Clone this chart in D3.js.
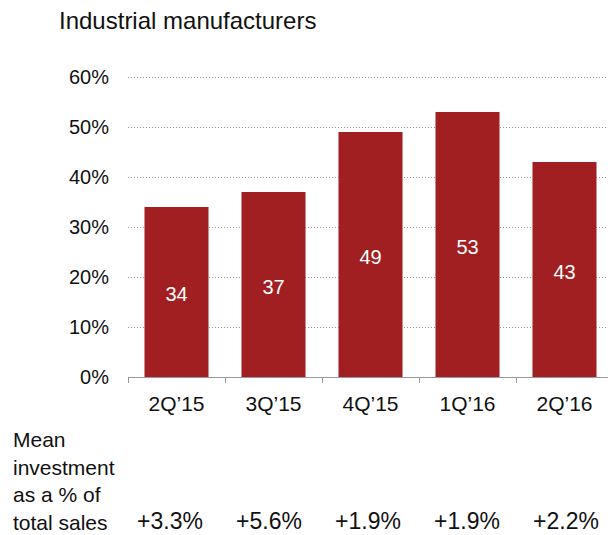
<!DOCTYPE html>
<html>
<head>
<meta charset="utf-8">
<script src="https://cdn.jsdelivr.net/npm/d3@7"></script>
<style>
  body { margin: 0; background: #fff; }
  text { font-family: "Liberation Sans", Arial, sans-serif; fill: #111; }
</style>
</head>
<body>
<div id="vis"></div>
<script>
const FRAME_WIDTH = 608;
const FRAME_HEIGHT = 535;
const MARGINS = {left: 128, right: -5, top: 77, bottom: 158};

const VIS_WIDTH = FRAME_WIDTH - MARGINS.left - MARGINS.right;
const VIS_HEIGHT = FRAME_HEIGHT - MARGINS.top - MARGINS.bottom;

// data
const categories = ["2Q\u201915", "3Q\u201915", "4Q\u201915", "1Q\u201916", "2Q\u201916"];
const shares = [34, 37, 49, 53, 43];
const investment = ["+3.3%", "+5.6%", "+1.9%", "+1.9%", "+2.2%"];
const yTicks = [0, 10, 20, 30, 40, 50, 60];
const footerLines = ["Mean", "investment", "as a % of", "total sales"];

const FRAME = d3.select("#vis")
                .append("svg")
                  .attr("width", FRAME_WIDTH)
                  .attr("height", FRAME_HEIGHT);

const X_SCALE = d3.scaleBand()
                  .domain(categories)
                  .range([0, VIS_WIDTH])
                  .paddingInner(0.34)
                  .paddingOuter(0.17);

const Y_SCALE = d3.scaleLinear()
                  .domain([0, 60])
                  .range([VIS_HEIGHT, 0]);

// title
FRAME.append("text")
     .attr("x", 59)
     .attr("y", 29)
     .attr("font-size", "24px")
     .text("Industrial manufacturers");

const G = FRAME.append("g")
               .attr("transform", "translate(" + MARGINS.left + "," + MARGINS.top + ")");

// dotted gridlines
G.selectAll(".grid")
 .data(yTicks.filter(d => d > 0))
 .enter()
 .append("line")
   .attr("x1", 0)
   .attr("x2", FRAME_WIDTH - MARGINS.left)
   .attr("y1", d => Y_SCALE(d) + 0.5)
   .attr("y2", d => Y_SCALE(d) + 0.5)
   .attr("stroke", "#999")
   .attr("stroke-width", 1)
   .attr("stroke-dasharray", "1,2");

// y labels
G.selectAll(".ylab")
 .data(yTicks)
 .enter()
 .append("text")
   .attr("x", -19)
   .attr("y", d => Y_SCALE(d))
   .attr("dy", "0.35em")
   .attr("text-anchor", "end")
   .attr("font-size", "20px")
   .text(d => d + "%");

// bars
G.selectAll(".bar")
 .data(shares)
 .enter()
 .append("rect")
   .attr("x", (d, i) => X_SCALE(categories[i]))
   .attr("y", d => Y_SCALE(d))
   .attr("width", X_SCALE.bandwidth())
   .attr("height", d => VIS_HEIGHT - Y_SCALE(d))
   .attr("fill", "#A21F21");

// value labels
G.selectAll(".val")
 .data(shares)
 .enter()
 .append("text")
   .attr("x", (d, i) => X_SCALE(categories[i]) + X_SCALE.bandwidth() / 2)
   .attr("y", d => (Y_SCALE(d) + VIS_HEIGHT) / 2 + 2)
   .attr("dy", "0.35em")
   .attr("text-anchor", "middle")
   .attr("font-size", "20px")
   .style("fill", "#fff")
   .text(d => d);

// x axis
const xAxis = G.append("g")
               .attr("transform", "translate(0," + VIS_HEIGHT + ")")
               .call(d3.axisBottom(X_SCALE).tickSize(0).tickPadding(19));
xAxis.select(".domain").attr("stroke", "#999").attr("d", "M0.5,0.5H" + VIS_WIDTH);
xAxis.selectAll("text").attr("font-size", "21px").style("fill", "#111")
     .attr("font-family", "Liberation Sans, Arial, sans-serif");

// tick marks between bands
G.selectAll(".sep")
 .data(categories)
 .enter()
 .append("line")
   .attr("x1", d => Math.round(X_SCALE(d) - X_SCALE.step() * X_SCALE.paddingInner() / 2) + 0.5)
   .attr("x2", d => Math.round(X_SCALE(d) - X_SCALE.step() * X_SCALE.paddingInner() / 2) + 0.5)
   .attr("y1", VIS_HEIGHT)
   .attr("y2", VIS_HEIGHT + 6)
   .attr("stroke", "#999");

// footer
FRAME.selectAll(".foot")
     .data(footerLines)
     .enter()
     .append("text")
       .attr("x", 13)
       .attr("y", (d, i) => 447 + i * 27.5)
       .attr("font-size", "21px")
       .text(d => d);

const FOOT_SCALE = d3.scalePoint()
                     .domain(categories)
                     .range([170, 566]);

FRAME.selectAll(".inv")
     .data(investment)
     .enter()
     .append("text")
       .attr("x", (d, i) => FOOT_SCALE(categories[i]))
       .attr("y", 529)
       .attr("text-anchor", "middle")
       .attr("font-size", "23px")
       .text(d => d);
</script>
</body>
</html>
